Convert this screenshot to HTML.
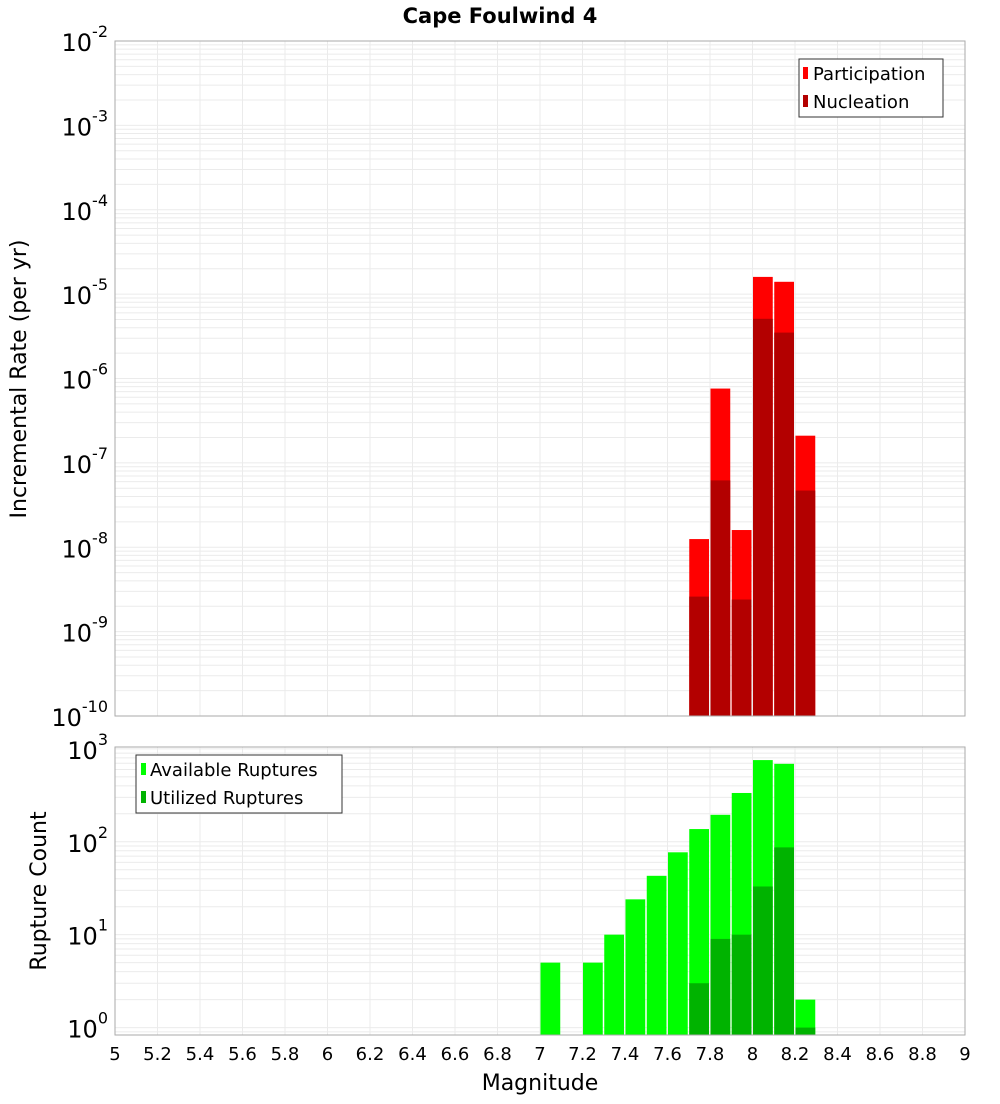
<!DOCTYPE html>
<html><head><meta charset="utf-8"><style>
body{margin:0;background:#fff;font-family:"DejaVu Sans","Liberation Sans",sans-serif;}
svg text{font-family:"DejaVu Sans","Liberation Sans",sans-serif;}
</style></head><body>
<svg id="c" width="1000" height="1100" xmlns="http://www.w3.org/2000/svg">
<text x="500" y="23" text-anchor="middle" font-size="21" font-weight="bold">Cape Foulwind 4</text>
<g id="grid"></g>
<g id="bars"></g>
<rect x="115" y="41" width="850" height="675" fill="none" stroke="#aaa"/>
<rect x="115" y="747" width="850" height="288" fill="none" stroke="#aaa"/>
<g id="ticks"></g>
<text transform="translate(26,379) rotate(-90)" text-anchor="middle" font-size="22">Incremental Rate (per yr)</text>
<text transform="translate(46,891) rotate(-90)" text-anchor="middle" font-size="22">Rupture Count</text>
<text x="540" y="1090" text-anchor="middle" font-size="22">Magnitude</text>
<g>
<rect x="799" y="59" width="144" height="58" fill="#fff" stroke="#333"/>
<rect x="803" y="67" width="5" height="12" fill="#ff0000"/>
<text x="813" y="80" font-size="18">Participation</text>
<rect x="803" y="95" width="5" height="12" fill="#b30000"/>
<text x="813" y="108" font-size="18">Nucleation</text>
</g>
<g>
<rect x="136" y="755" width="206" height="58" fill="#fff" stroke="#333"/>
<rect x="141" y="763" width="5" height="12" fill="#00ff00"/>
<text x="150" y="776" font-size="18">Available Ruptures</text>
<rect x="141" y="791" width="5" height="12" fill="#00b300"/>
<text x="150" y="804" font-size="18">Utilized Ruptures</text>
</g>
</svg>
<script>
const mags=[7.75,7.85,7.95,8.05,8.15,8.25];
const participation=[1.25e-8,7.6e-7,1.6e-8,1.6e-5,1.4e-5,2.1e-7];
const nucleation=[2.6e-9,6.2e-8,2.4e-9,5.1e-6,3.5e-6,4.7e-8];
const cMags=[7.05,7.25,7.35,7.45,7.55,7.65,7.75,7.85,7.95,8.05,8.15,8.25];
const available=[5,5,10,24,43,77,137,195,335,757,690,2];
const utilized=[0,0,0,0,0,0,3,9,10,33,87,1];
const xTicks=["5","5.2","5.4","5.6","5.8","6","6.2","6.4","6.6","6.8","7","7.2","7.4","7.6","7.8","8","8.2","8.4","8.6","8.8","9"];
const topExps=[-10,-9,-8,-7,-6,-5,-4,-3,-2];
const botExps=[0,1,2,3];
const NS="http://www.w3.org/2000/svg";
const X=m=>115+(m-5)*212.5;
const YT=v=>41+(-2-Math.log10(v))*84.375;
const bLo=-0.08,bHi=3.02;
const YB=v=>1035-(Math.log10(v)-bLo)/(bHi-bLo)*288;
function mk(t,a,p){const e=document.createElementNS(NS,t);for(const k in a)e.setAttribute(k,a[k]);document.getElementById(p).appendChild(e);return e;}
// grid
for(let i=0;i<=20;i++){const x=X(5+i*0.2);
 let l=mk('line',{x1:x,x2:x,y1:41,y2:716,stroke:'#ebebeb'},'grid');
 
 
 l=mk('line',{x1:x,x2:x,y1:747,y2:1035,stroke:'#ebebeb'},'grid');
 
 }
for(let e=-10;e<-2;e++)for(let k=1;k<10;k++){const y=YT(k*Math.pow(10,e));
 const l=mk('line',{x1:115,x2:965,y1:y,y2:y,stroke:'#ebebeb'},'grid');
 
 }
for(let e=-1;e<4;e++)for(let k=1;k<10;k++){const v=k*Math.pow(10,e);const y=YB(v);if(y<747||y>1035)continue;
 const l=mk('line',{x1:115,x2:965,y1:y,y2:y,stroke:'#ebebeb'},'grid');
 
 }
// bars
const bw=212.5*0.1;
function bar(m,v,fill,yf,base,name){const y=yf(v);const r=mk('rect',{x:X(m)-bw/2+0.5,y:y,width:bw-1.5,height:base-y,fill:fill},'bars');
 
 }
mags.forEach((m,i)=>{bar(m,participation[i],'#ff0000',YT,716,'participation-bar');bar(m,nucleation[i],'#b30000',YT,716,'nucleation-bar');});
cMags.forEach((m,i)=>{if(available[i]>0)bar(m,available[i],'#00ff00',YB,1035,'available-bar');if(utilized[i]>0)bar(m,utilized[i],'#00b300',YB,1035,'utilized-bar');});
// ticks
xTicks.forEach((t,i)=>{const e=mk('text',{x:X(5+i*0.2),y:1060,'text-anchor':'middle','font-size':18},'ticks');e.textContent=t;
 
 });
function ylab(y,ex,name){const g=mk('text',{x:108,y:y+10,'text-anchor':'end','font-size':24},'ticks');
 g.innerHTML='10<tspan dy="-14" font-size="16">'+ex+'</tspan>';
 
 }
topExps.forEach(e=>ylab(YT(Math.pow(10,e)),e,'top-y-tick-label'));
botExps.forEach(e=>ylab(YB(Math.pow(10,e)),e,'bottom-y-tick-label'));
</script>
</body></html>
